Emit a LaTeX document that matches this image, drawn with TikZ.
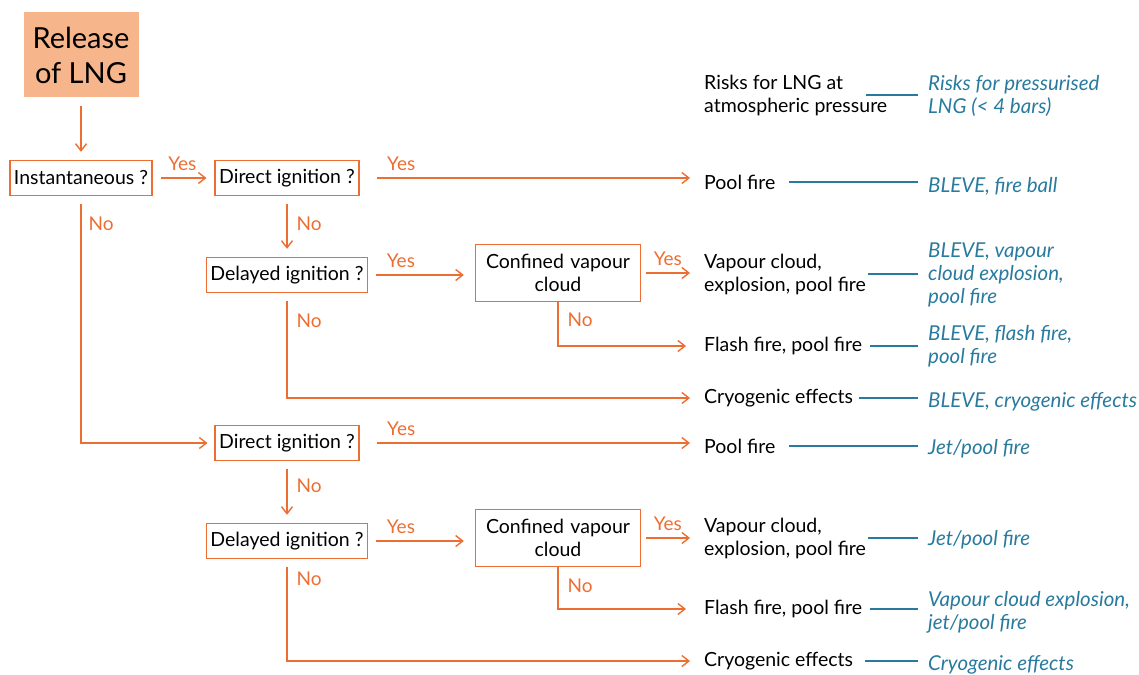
\documentclass[tikz,border=0pt]{standalone}
\usepackage{fontspec}
\setmainfont{Lato}
\usetikzlibrary{positioning,arrows.meta}
\definecolor{lngorange}{RGB}{236,110,50}
\definecolor{lngfill}{RGB}{246,181,138}
\definecolor{riskblue}{RGB}{40,122,158}
\tikzset{
  box/.style={draw=lngorange, line width=1.4pt, minimum height=35pt, inner xsep=4pt,
    font=\fontsize{19.5}{23}\selectfont},
  start/.style={fill=lngfill, minimum width=115pt, minimum height=85pt, align=center,
    font=\fontsize{29}{35}\selectfont},
  outcome/.style={anchor=west, inner sep=0pt, align=left, font=\fontsize{19.5}{23}\selectfont},
  risk/.style={anchor=west, inner sep=0pt, align=left, text=riskblue,
    font=\fontsize{20.5}{23}\selectfont\itshape},
  flow/.style={draw=lngorange, line width=1.4pt, -{Straight Barb[length=7pt,width=11pt]},
    shorten <=8pt, shorten >=8pt},
  riskline/.style={draw=riskblue, line width=1.4pt},
  answer/.style={text=lngorange, inner sep=0pt, font=\fontsize{19}{22}\selectfont}
}
\begin{document}
\begin{tikzpicture}[x=1pt, y=-1pt]
  \useasboundingbox (0,0) rectangle (1139,674);
  % Place nodes
  \node [start] (release) at (81,55) {Release\\of LNG};
  \node [box] (inst) at (81,178) {Instantaneous ?};
  \node [box] (direct1) at (287,178) {Direct ignition ?};
  \node [box] (delayed1) at (287,275) {Delayed ignition ?};
  \node [box, minimum height=57pt, text width=157pt, align=center] (confined1) at (558,273) {Confined vapour\\cloud};
  \node [box] (direct2) at (287,443) {Direct ignition ?};
  \node [box] (delayed2) at (287,541) {Delayed ignition ?};
  \node [box, minimum height=57pt, text width=157pt, align=center] (confined2) at (558,538) {Confined vapour\\cloud};

  % Outcomes and pressurised risks
  \node [outcome] (head) at (704,95) {Risks for LNG at\\atmospheric pressure};
  \node [risk] (headp) at (928,96) {Risks for pressurised\\LNG (< 4 bars)};
  \node [outcome] (pool1) at (704,182) {Pool fire};
  \node [risk] (rpool1) at (928,186) {BLEVE, fire ball};
  \node [outcome] (cloud1) at (704,274) {Vapour cloud,\\explosion, pool fire};
  \node [risk] (rcloud1) at (928,275) {BLEVE, vapour\\cloud explosion,\\pool fire};
  \node [outcome] (flash1) at (704,346) {Flash fire, pool fire};
  \node [risk] (rflash1) at (928,346) {BLEVE, flash fire,\\pool fire};
  \node [outcome] (cryo1) at (704,398) {Cryogenic effects};
  \node [risk] (rcryo1) at (928,402) {BLEVE, cryogenic effects};
  \node [outcome] (pool2) at (704,446) {Pool fire};
  \node [risk] (rpool2) at (928,449) {Jet/pool fire};
  \node [outcome] (cloud2) at (704,538) {Vapour cloud,\\explosion, pool fire};
  \node [risk] (rcloud2) at (928,540) {Jet/pool fire};
  \node [outcome] (flash2) at (704,609) {Flash fire, pool fire};
  \node [risk] (rflash2) at (928,612) {Vapour cloud explosion,\\jet/pool fire};
  \node [outcome] (cryo2) at (704,661) {Cryogenic effects};
  \node [risk] (rcryo2) at (928,665) {Cryogenic effects};

  % Draw edges
  \draw [flow] (release) -- (inst);
  \draw [flow] (inst) -- node [answer, at start, anchor=base west, xshift=15pt, yshift=8pt] {Yes} (direct1);
  \draw [flow, shorten <=17pt, shorten >=14pt] (direct1.east) -- node [answer, at start, anchor=base west, xshift=27pt, yshift=8pt] {Yes} (direct1.east -| pool1.west);
  \draw [flow] (direct1) -- node [answer, at start, anchor=base west, xshift=9pt, yshift=-34pt] {No} (delayed1);
  \draw [flow, shorten >=11pt] (delayed1.east) -- node [answer, at start, anchor=base west, xshift=18pt, yshift=8pt] {Yes} (delayed1.east -| confined1.west);
  \draw [flow, shorten <=5pt, shorten >=14pt] (confined1.east) -- node [answer, at start, anchor=base west, xshift=12pt, yshift=8pt] {Yes} (confined1.east -| cloud1.west);
  \draw [flow, shorten <=0pt, shorten >=18pt] (confined1.south) |- node [answer, at start, anchor=base west, xshift=9pt, yshift=-24pt] {No} (flash1.west);
  \draw [flow, shorten >=14pt] (delayed1.south) |- node [answer, at start, anchor=base west, xshift=9pt, yshift=-34pt] {No} (cryo1.west);
  \draw [flow, shorten >=7pt] (inst.south) |- node [answer, at start, anchor=base west, xshift=7pt, yshift=-34pt] {No} (direct2.west);
  \draw [flow, shorten <=17pt, shorten >=14pt] (direct2.east) -- node [answer, at start, anchor=base west, xshift=27pt, yshift=8pt] {Yes} (direct2.east -| pool2.west);
  \draw [flow] (direct2) -- node [answer, at start, anchor=base west, xshift=9pt, yshift=-31pt] {No} (delayed2);
  \draw [flow, shorten >=11pt] (delayed2.east) -- node [answer, at start, anchor=base west, xshift=18pt, yshift=8pt] {Yes} (delayed2.east -| confined2.west);
  \draw [flow, shorten <=5pt, shorten >=14pt] (confined2.east) -- node [answer, at start, anchor=base west, xshift=12pt, yshift=8pt] {Yes} (confined2.east -| cloud2.west);
  \draw [flow, shorten <=0pt, shorten >=18pt] (confined2.south) |- node [answer, at start, anchor=base west, xshift=9pt, yshift=-25pt] {No} (flash2.west);
  \draw [flow, shorten >=14pt] (delayed2.south) |- node [answer, at start, anchor=base west, xshift=9pt, yshift=-26pt] {No} (cryo2.west);

  % Blue links to pressurised risks
  \draw [riskline, shorten >=10pt] (cloud1.east |- head.east) -- (head.east -| headp.west);
  \draw [riskline, shorten <=14pt, shorten >=10pt] (pool1.east) -- (pool1.east -| rpool1.west);
  \draw [riskline, shorten <=2pt, shorten >=10pt] (cloud1.east) -- (cloud1.east -| rcloud1.west);
  \draw [riskline, shorten <=8pt, shorten >=10pt] (flash1.east) -- (flash1.east -| rflash1.west);
  \draw [riskline, shorten <=6pt, shorten >=10pt] (cryo1.east) -- (cryo1.east -| rcryo1.west);
  \draw [riskline, shorten <=14pt, shorten >=10pt] (pool2.east) -- (pool2.east -| rpool2.west);
  \draw [riskline, shorten <=2pt, shorten >=10pt] (cloud2.east) -- (cloud2.east -| rcloud2.west);
  \draw [riskline, shorten <=8pt, shorten >=10pt] (flash2.east) -- (flash2.east -| rflash2.west);
  \draw [riskline, shorten <=12pt, shorten >=10pt] (cryo2.east) -- (cryo2.east -| rcryo2.west);
\end{tikzpicture}
\end{document}
